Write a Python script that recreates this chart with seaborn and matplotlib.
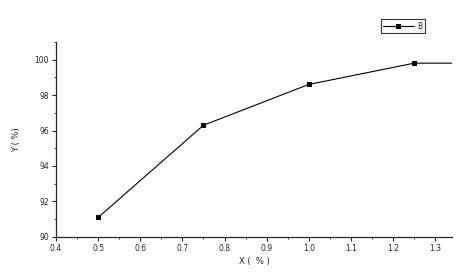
import matplotlib
matplotlib.use("Agg")
import matplotlib.pyplot as plt
import seaborn as sns
import pandas as pd
from matplotlib.ticker import MultipleLocator

x_vals = [0.5, 0.75, 1.0, 1.25, 1.5]
y_vals = [91.1, 96.3, 98.6, 99.8, 99.8]
series_name = "B"

df = pd.DataFrame({"X": x_vals, "Y": y_vals, "series": series_name})

sns.set_style("ticks")
plt.rcParams['font.family'] = ['DejaVu Sans']

fig = plt.figure(figsize=(4.67, 2.72), dpi=100)
ax = fig.add_axes([0.12, 0.129, 0.848, 0.717])
sns.lineplot(data=df, x="X", y="Y", hue="series", palette=["black"], marker="s",
             markersize=3.3, linewidth=0.8, markeredgecolor="black", ax=ax, legend=True)

ax.set_xlim(0.4, 1.34)
ax.set_ylim(90, 101)
ax.xaxis.set_minor_locator(MultipleLocator(0.05))
ax.yaxis.set_minor_locator(MultipleLocator(1))
ax.set_xticks([0.4, 0.5, 0.6, 0.7, 0.8, 0.9, 1.0, 1.1, 1.2, 1.3])
ax.set_xticklabels(["0.4", "0.5", "0.6", "0.7", "0.8", "0.9", "1.0", "1.1", "1.2", "1.3"])
ax.set_yticks([90, 92, 94, 96, 98, 100])
ax.set_yticklabels(["90", "92", "94", "96", "98", "100"])
ax.tick_params(which="major", direction="out", length=3, width=0.8, labelsize=5.5, pad=2)
ax.tick_params(which="minor", direction="out", length=1.5, width=0.6)
for s in ["top", "right"]:
    ax.spines[s].set_visible(False)
for s in ["left", "bottom"]:
    ax.spines[s].set_linewidth(0.9)
ax.set_xlabel("X (  % )", fontsize=6, labelpad=3)
ax.set_ylabel("Y ( %)", fontsize=6, labelpad=10)

leg = ax.legend(loc="upper left", bbox_to_anchor=(0.82, 1.115), frameon=True, fontsize=5.5,
                fancybox=False, edgecolor="black", handlelength=4, borderpad=0.3,
                handletextpad=0.5, borderaxespad=0)
leg.get_frame().set_linewidth(0.8)
leg.set_title(None)

fig.savefig("out.png", dpi=100)
